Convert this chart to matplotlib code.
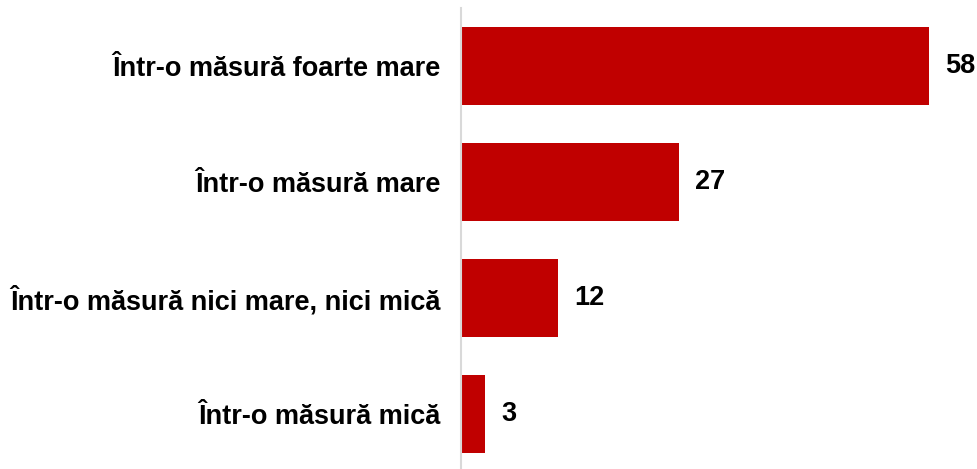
import matplotlib.pyplot as plt

# Data
categories = [
    "Într-o măsură foarte mare",
    "Într-o măsură mare",
    "Într-o măsură nici mare, nici mică",
    "Într-o măsură mică",
]
values = [58, 27, 12, 3]

plt.rcParams['font.family'] = ['Liberation Sans', 'DejaVu Sans']

fig = plt.figure(figsize=(9.77, 4.69), dpi=100)
# axes placed in pixel terms: left edge at the category axis line
ax = fig.add_axes([461 / 977, 0.0, 516 / 977, 461 / 469])

y = list(range(len(categories)))
ax.barh(y, values, height=0.665, color='#C00000')

ax.set_xlim(0, 64)
ax.set_ylim(3.474, -0.5)

for yi, v in zip(y, values):
    ax.text(v + 2, yi, str(v), va='center', ha='left',
            fontsize=19.5, fontweight='bold', color='black')

ax.set_yticks(y)
ax.set_yticklabels(categories, fontsize=19.5, fontweight='bold')
ax.tick_params(axis='y', length=0, pad=15)
ax.set_xticks([])

for s in ['top', 'right', 'bottom']:
    ax.spines[s].set_visible(False)
ax.spines['left'].set_color('#D9D9D9')
ax.spines['left'].set_linewidth(1.5)

fig.savefig('out.png', dpi=100)
